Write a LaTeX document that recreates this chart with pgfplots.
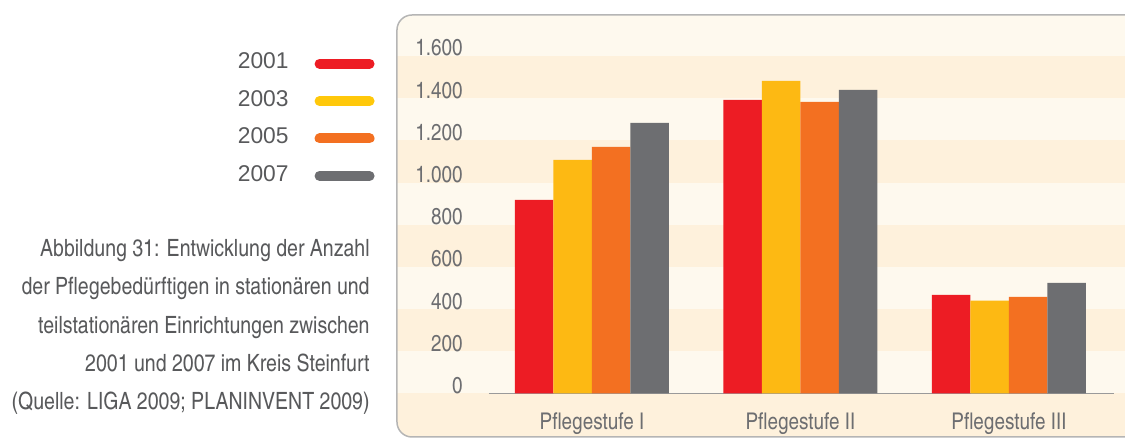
\documentclass[border=0pt]{standalone}
\usepackage{fontspec}
\setmainfont{texgyreheroscn-regular.otf}
\newfontfamily\legfont{Liberation Sans}
\usepackage{pgfplots}
\pgfplotsset{compat=1.18}
\pgfplotsset{set layers}
\definecolor{cRed}{HTML}{ED1C24}
\definecolor{cYel}{HTML}{FDB913}
\definecolor{cOra}{HTML}{F37021}
\definecolor{cGry}{HTML}{6D6E71}
\definecolor{cLegYel}{HTML}{FFC80A}
\definecolor{bgLight}{HTML}{FEF9EE}
\definecolor{bgDark}{HTML}{FEF1DC}
\definecolor{txt}{HTML}{58595B}
\definecolor{tickc}{HTML}{6D6E71}
\definecolor{borderc}{HTML}{B5B5B5}
\definecolor{axline}{HTML}{9A9A9A}
\begin{document}
\begin{tikzpicture}
\begin{axis}[
  x=104.25pt, y=0.10547pt,
  xmin=-0.494, xmax=2.504, ymin=0, ymax=1600,
  clip=false,
  axis x line*=bottom, axis y line*=left,
  x axis line style={draw=axline, line width=0.75pt, -},
  y axis line style={draw=none, -},
  major tick length=0pt,
  tick style={draw=none},
  xtick={0,1,2},
  xticklabels={Pflegestufe I, Pflegestufe II, Pflegestufe III},
  ytick={0,200,...,1600},
  yticklabel style={anchor=base east, inner sep=0pt, xshift=-13pt, text=tickc, font=\fontsize{11.5}{13}\selectfont},
  xticklabel style={anchor=base, inner sep=0pt, yshift=-18pt, text=tickc, font=\fontsize{11.5}{13}\selectfont},
  /pgf/number format/1000 sep={.},
  /pgf/number format/assume math mode=true,
  ybar=0pt, bar width=19.25pt,
  legend plot pos=right,
  legend cell align=right,
  legend style={at={(-0.1824,1.0119)}, anchor=north east, draw=none, fill=none, inner sep=0pt,
    row sep=10.4pt, column sep=13pt,
    nodes={inner sep=0pt, text height=8.3pt, text depth=0pt, font=\legfont\fontsize{11.4}{13}\selectfont, text=txt}},
]
\begin{pgfonlayer}{axis background}
  \begin{scope}
    \clip[rounded corners=7.5pt] (axis cs:-0.9353,-206.2) rectangle (axis cs:2.8,1794.4);
    \fill[bgLight] (axis cs:-0.9353,-206.2) rectangle (axis cs:2.8,1794.4);
    \fill[bgDark] (axis cs:-0.9353,-206.2) rectangle (axis cs:2.8,0);
    \fill[bgDark] (axis cs:-0.9353,200) rectangle (axis cs:2.8,400);
    \fill[bgDark] (axis cs:-0.9353,600) rectangle (axis cs:2.8,800);
    \fill[bgDark] (axis cs:-0.9353,1000) rectangle (axis cs:2.8,1200);
    \fill[bgDark] (axis cs:-0.9353,1400) rectangle (axis cs:2.8,1600);
  \end{scope}
  \draw[borderc, line width=0.75pt, rounded corners=7.5pt] (axis cs:-0.9353,-206.2) rectangle (axis cs:2.8,1794.4);
\end{pgfonlayer}
\addplot[fill=cRed, draw=none, legend image code/.code={\draw[cRed, line width=5pt, line cap=round] (0pt,-1.5pt) -- (25pt,-1.5pt);}]
  coordinates {(0,918) (1,1392) (2,468)};
\addlegendentry{2001}
\addplot[fill=cYel, draw=none, legend image code/.code={\draw[cLegYel, line width=5pt, line cap=round] (0pt,-1.5pt) -- (25pt,-1.5pt);}]
  coordinates {(0,1108) (1,1482) (2,440)};
\addlegendentry{2003}
\addplot[fill=cOra, draw=none, legend image code/.code={\draw[cOra, line width=5pt, line cap=round] (0pt,-1.5pt) -- (25pt,-1.5pt);}]
  coordinates {(0,1169) (1,1382) (2,458)};
\addlegendentry{2005}
\addplot[fill=cGry, draw=none, legend image code/.code={\draw[cGry, line width=5pt, line cap=round] (0pt,-1.5pt) -- (25pt,-1.5pt);}]
  coordinates {(0,1283) (1,1439) (2,525)};
\addlegendentry{2007}
\begin{scope}[every node/.style={anchor=base east, inner sep=0pt, text=txt, font=\fontsize{11.9}{14}\selectfont}]
  \node at (axis cs:-1.0647,651.8) {Abbildung 31: Entwicklung der Anzahl};
  \node at (axis cs:-1.0647,469.3) {der Pflegebedürftigen in stationären und};
  \node at (axis cs:-1.0647,286.8) {teilstationären Einrichtungen zwischen};
  \node at (axis cs:-1.0647,104.3) {2001 und 2007 im Kreis Steinfurt};
  \node at (axis cs:-1.0647,-78.2) {(Quelle: LIGA 2009; PLANINVENT 2009)};
\end{scope}
\coordinate (bbl) at (axis cs:-2.8393,-215.7);
\coordinate (btr) at (axis cs:2.5564,1865.5);
\end{axis}
\pgfresetboundingbox
\useasboundingbox (bbl) rectangle (btr);
\end{tikzpicture}
\end{document}
